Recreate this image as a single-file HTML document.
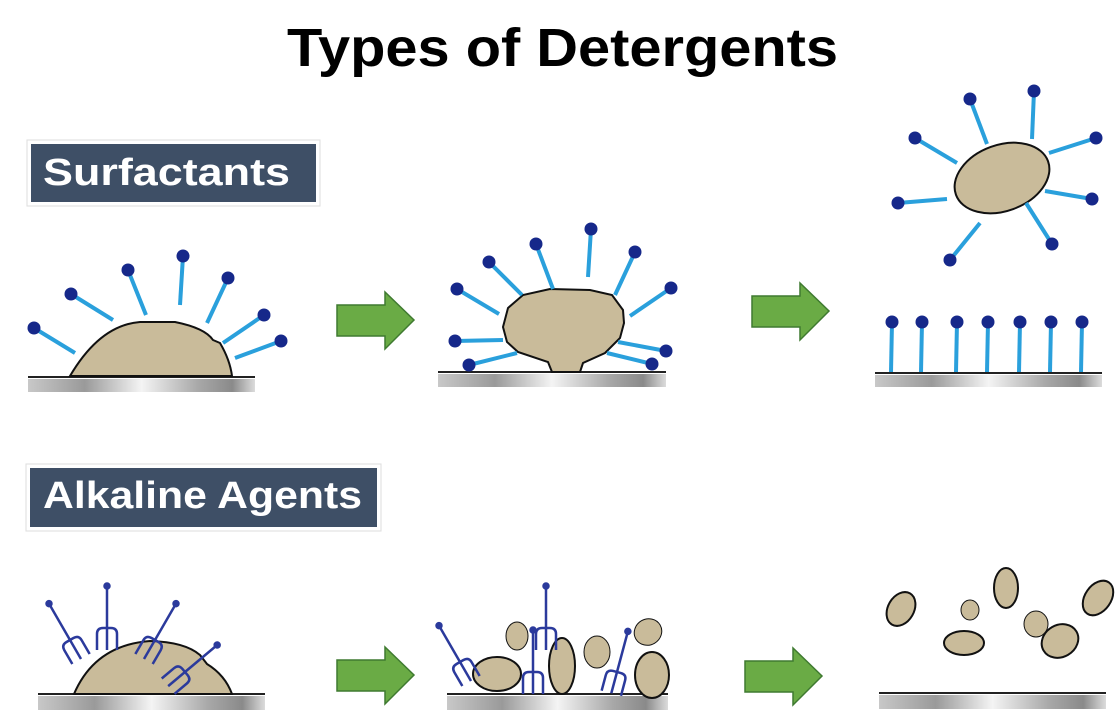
<!DOCTYPE html>
<html><head><meta charset="utf-8"><style>
html,body{margin:0;padding:0;background:#fff;}
svg{display:block;font-family:"Liberation Sans",sans-serif;}
</style></head><body>
<svg width="1115" height="710" viewBox="0 0 1115 710" xmlns="http://www.w3.org/2000/svg">
<defs>
<linearGradient id="bar" x1="0" x2="1" y1="0" y2="0">
<stop offset="0" stop-color="#c8c8c8"/><stop offset="0.25" stop-color="#9a9a9a"/><stop offset="0.5" stop-color="#f4f4f4"/><stop offset="0.75" stop-color="#a8a8a8"/><stop offset="0.9" stop-color="#8a8a8a"/><stop offset="1" stop-color="#dcdcdc"/>
</linearGradient>
<g id="fork" fill="none" stroke="#2b3a9c" stroke-width="2.5">
<path d="M0,-42 L0,22"/>
<path d="M-10,22 L-10,6 Q-10,0 -4,0 L4,0 Q10,0 10,6 L10,22"/>
<circle cx="0" cy="-42" r="2.5" fill="#2b3a9c"/>
</g>
<g id="arrow"><path d="M0,13 L48,13 L48,0 L77,28 L48,57 L48,44 L0,44 Z" fill="#6aab45" stroke="#3f7a30" stroke-width="1.5"/></g>
</defs>

<text x="287" y="66" font-size="54" font-weight="bold" fill="#000" textLength="551" lengthAdjust="spacingAndGlyphs">Types of Detergents</text>

<!-- labels -->
<rect x="27" y="140" width="293" height="66" fill="#fff" stroke="#ddd" stroke-width="1"/>
<rect x="31" y="144" width="285" height="58" fill="#3e4f66"/>
<text x="43" y="185" font-size="38" font-weight="bold" fill="#fff" textLength="247" lengthAdjust="spacingAndGlyphs">Surfactants</text>
<rect x="26" y="464" width="355" height="67" fill="#fff" stroke="#ddd" stroke-width="1"/>
<rect x="30" y="468" width="347" height="59" fill="#3e4f66"/>
<text x="43" y="508" font-size="38" font-weight="bold" fill="#fff" textLength="319" lengthAdjust="spacingAndGlyphs">Alkaline Agents</text>

<!-- platforms -->
<g>
<rect x="28" y="379" width="227" height="13" fill="url(#bar)"/><line x1="28" y1="377" x2="255" y2="377" stroke="#222" stroke-width="2"/>
<rect x="438" y="374" width="228" height="13" fill="url(#bar)"/><line x1="438" y1="372" x2="666" y2="372" stroke="#222" stroke-width="2"/>
<rect x="875" y="375" width="227" height="12" fill="url(#bar)"/><line x1="875" y1="373" x2="1102" y2="373" stroke="#222" stroke-width="2"/>
<rect x="38" y="696" width="227" height="14" fill="url(#bar)"/><line x1="38" y1="694" x2="265" y2="694" stroke="#222" stroke-width="2"/>
<rect x="447" y="696" width="221" height="14" fill="url(#bar)"/><line x1="447" y1="694" x2="668" y2="694" stroke="#222" stroke-width="2"/>
<rect x="879" y="695" width="227" height="14" fill="url(#bar)"/><line x1="879" y1="693" x2="1106" y2="693" stroke="#222" stroke-width="2"/>
</g>

<!-- arrows -->
<use href="#arrow" x="337" y="292"/>
<use href="#arrow" x="752" y="283"/>
<use href="#arrow" x="337" y="647"/>
<use href="#arrow" x="745" y="648"/>

<!-- panel 1 surfactant -->
<path d="M70,376 Q100,325 140,322 L175,322 Q205,328 213,340 L220,343 Q230,360 232,376 Z" fill="#c9bb9a" stroke="#111" stroke-width="2"/>
<g stroke="#2aa0dc" stroke-width="4" stroke-linecap="butt">
<line x1="34" y1="328" x2="75" y2="353"/><line x1="71" y1="294" x2="113" y2="320"/><line x1="128" y1="270" x2="146" y2="315"/><line x1="183" y1="256" x2="180" y2="305"/><line x1="228" y1="278" x2="207" y2="323"/><line x1="264" y1="315" x2="223" y2="343"/><line x1="281" y1="341" x2="235" y2="358"/>
</g>
<g fill="#16288a">
<circle cx="34" cy="328" r="6.5"/><circle cx="71" cy="294" r="6.5"/><circle cx="128" cy="270" r="6.5"/><circle cx="183" cy="256" r="6.5"/><circle cx="228" cy="278" r="6.5"/><circle cx="264" cy="315" r="6.5"/><circle cx="281" cy="341" r="6.5"/>
</g>

<!-- panel 2 surfactant -->
<path d="M508,308 L523,295 L550,289 L590,290 L612,295 L623,310 L624,323 L620,338 L605,353 L583,363 L580,372 L552,372 L548,362 L518,352 L507,342 L503,327 Z" fill="#c9bb9a" stroke="#111" stroke-width="2"/>
<g stroke="#2aa0dc" stroke-width="4">
<line x1="457" y1="289" x2="499" y2="314"/><line x1="489" y1="262" x2="522" y2="295"/><line x1="536" y1="244" x2="553" y2="289"/><line x1="591" y1="229" x2="588" y2="277"/><line x1="635" y1="252" x2="615" y2="295"/><line x1="671" y1="288" x2="630" y2="316"/><line x1="455" y1="341" x2="503" y2="340"/><line x1="469" y1="365" x2="517" y2="353"/><line x1="666" y1="351" x2="618" y2="342"/><line x1="652" y1="364" x2="607" y2="353"/>
</g>
<g fill="#16288a">
<circle cx="457" cy="289" r="6.5"/><circle cx="489" cy="262" r="6.5"/><circle cx="536" cy="244" r="6.5"/><circle cx="591" cy="229" r="6.5"/><circle cx="635" cy="252" r="6.5"/><circle cx="671" cy="288" r="6.5"/><circle cx="455" cy="341" r="6.5"/><circle cx="469" cy="365" r="6.5"/><circle cx="666" cy="351" r="6.5"/><circle cx="652" cy="364" r="6.5"/>
</g>

<!-- panel 3 surfactant -->
<ellipse cx="1002" cy="178" rx="49" ry="33" transform="rotate(-20 1002 178)" fill="#c9bb9a" stroke="#111" stroke-width="2"/>
<g stroke="#2aa0dc" stroke-width="4">
<line x1="970" y1="99" x2="987" y2="144"/><line x1="1034" y1="91" x2="1032" y2="139"/><line x1="1096" y1="138" x2="1049" y2="153"/><line x1="1092" y1="199" x2="1045" y2="191"/><line x1="1052" y1="244" x2="1026" y2="203"/><line x1="950" y1="260" x2="980" y2="223"/><line x1="898" y1="203" x2="947" y2="199"/><line x1="915" y1="138" x2="957" y2="163"/>
<line x1="892" y1="322" x2="891" y2="372"/><line x1="922" y1="322" x2="921" y2="372"/><line x1="957" y1="322" x2="956" y2="372"/><line x1="988" y1="322" x2="987" y2="372"/><line x1="1020" y1="322" x2="1019" y2="372"/><line x1="1051" y1="322" x2="1050" y2="372"/><line x1="1082" y1="322" x2="1081" y2="372"/>
</g>
<g fill="#16288a">
<circle cx="970" cy="99" r="6.5"/><circle cx="1034" cy="91" r="6.5"/><circle cx="1096" cy="138" r="6.5"/><circle cx="1092" cy="199" r="6.5"/><circle cx="1052" cy="244" r="6.5"/><circle cx="950" cy="260" r="6.5"/><circle cx="898" cy="203" r="6.5"/><circle cx="915" cy="138" r="6.5"/>
<circle cx="892" cy="322" r="6.5"/><circle cx="922" cy="322" r="6.5"/><circle cx="957" cy="322" r="6.5"/><circle cx="988" cy="322" r="6.5"/><circle cx="1020" cy="322" r="6.5"/><circle cx="1051" cy="322" r="6.5"/><circle cx="1082" cy="322" r="6.5"/>
</g>

<!-- row 2 panel 1 -->
<path d="M74,694 Q95,645 150,641 Q185,642 200,655 L207,664 Q225,675 232,694 Z" fill="#c9bb9a" stroke="#111" stroke-width="2"/>
<use href="#fork" transform="translate(70,640) rotate(-30)"/>
<use href="#fork" transform="translate(107,628)"/>
<use href="#fork" transform="translate(155,640) rotate(30)"/>
<use href="#fork" transform="translate(185,672) rotate(50)"/>

<!-- row 2 panel 2 -->
<g fill="#c9bb9a" stroke="#111">
<ellipse cx="517" cy="636" rx="11" ry="14" stroke-width="1"/>
<ellipse cx="597" cy="652" rx="13" ry="16" stroke-width="1"/>
<ellipse cx="648" cy="632" rx="14" ry="13" stroke-width="1" transform="rotate(-30 648 632)"/>
<ellipse cx="497" cy="674" rx="24" ry="17" stroke-width="2"/>
<ellipse cx="562" cy="666" rx="13" ry="28" stroke-width="2"/>
<ellipse cx="652" cy="675" rx="17" ry="23" stroke-width="2"/>
</g>
<use href="#fork" transform="translate(460,662) rotate(-30)"/>
<use href="#fork" transform="translate(546,628)"/>
<use href="#fork" transform="translate(533,672)"/>
<use href="#fork" transform="translate(617,672) rotate(15)"/>

<!-- row 2 panel 3 -->
<g fill="#c9bb9a" stroke="#111">
<ellipse cx="901" cy="609" rx="13" ry="18" stroke-width="2" transform="rotate(30 901 609)"/>
<ellipse cx="970" cy="610" rx="9" ry="10" stroke-width="1"/>
<ellipse cx="1006" cy="588" rx="12" ry="20" stroke-width="2"/>
<ellipse cx="964" cy="643" rx="20" ry="12" stroke-width="2"/>
<ellipse cx="1036" cy="624" rx="12" ry="13" stroke-width="1"/>
<ellipse cx="1060" cy="641" rx="19" ry="16" stroke-width="2" transform="rotate(-30 1060 641)"/>
<ellipse cx="1098" cy="598" rx="13" ry="19" stroke-width="2" transform="rotate(35 1098 598)"/>
</g>
</svg>
</body></html>
